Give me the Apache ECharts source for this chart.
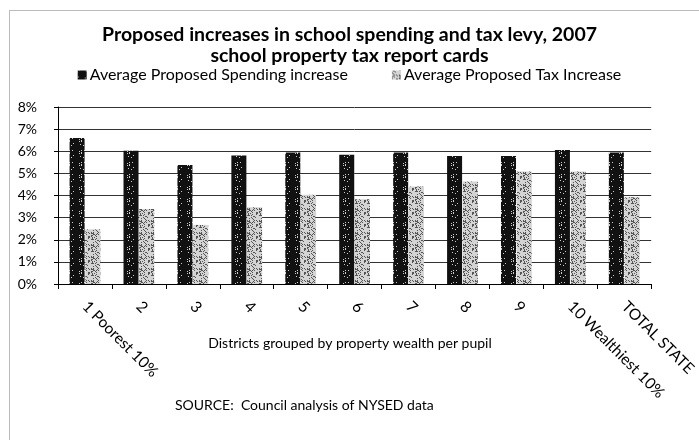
<!DOCTYPE html>
<html><head><meta charset="utf-8">
<script src="https://cdn.jsdelivr.net/npm/echarts@6/dist/echarts.min.js"></script>
<style>html,body{margin:0;padding:0;background:#fff}#c{width:699px;height:440px}</style>
</head><body><div id="c"></div>
<script>
var categories = ['1 Poorest 10%','2','3','4','5','6','7','8','9','10 Wealthiest 10%','TOTAL STATE'];
var spending = [6.6, 6.02, 5.38, 5.81, 5.94, 5.84, 5.94, 5.79, 5.79, 6.06, 5.94];
var tax = [2.47, 3.39, 2.67, 3.47, 4.03, 3.83, 4.41, 4.63, 5.08, 5.08, 3.92];

function makePattern(bg, fg, step, seed) {
  var c = document.createElement('canvas');
  c.width = 12; c.height = 12;
  var ctx = c.getContext('2d');
  ctx.fillStyle = bg; ctx.fillRect(0,0,12,12);
  ctx.fillStyle = fg;
  var s = seed;
  for (var y = 0; y < 12; y++) {
    for (var x = 0; x < 12; x++) {
      s = (s * 1103515245 + 12345) & 0x7fffffff;
      if ((s >> 16) % step === 0) ctx.fillRect(x, y, 1, 1);
    }
  }
  return {image: c, repeat: 'repeat'};
}
var darkPat = makePattern('#111', '#ccc', 8, 3);
var lightPat = makePattern('#d4d4d4', '#555', 4, 11);

var font = 'Lato, "Open Sans", sans-serif';
var chart = echarts.init(document.getElementById('c'), null, {renderer:'canvas'});
chart.setOption({
  animation: false,
  backgroundColor: '#fff',
  textStyle: {fontFamily: font, color: '#000'},
  title: {
    text: 'Proposed increases in school spending and tax levy, 2007\nschool property tax report cards',
    left: 'center', top: 19,
    textStyle: {fontSize: 19.5, fontWeight: 'bold', lineHeight: 21, color: '#000', fontFamily: font}
  },
  graphic: [
    {type: 'rect', shape: {x: 9.5, y: 10.5, width: 700, height: 440}, style: {fill: 'none', stroke: '#777', lineWidth: 1, lineDash: [1, 1]}, silent: true},
    {type: 'text', x: 350, y: 343, style: {text: 'Districts grouped by property wealth per pupil', font: '14px ' + font, fill: '#000', textAlign: 'center', textVerticalAlign: 'middle'}},
    {type: 'text', x: 175, y: 405, style: {text: 'SOURCE:  Council analysis of NYSED data', font: '14px ' + font, fill: '#000', textVerticalAlign: 'middle'}}
  ],
  legend: {
    top: 62, left: 'center', itemGap: 44, itemWidth: 9, itemHeight: 9,
    icon: 'rect',
    textStyle: {fontSize: 16, color: '#000', fontFamily: font, padding: [0,0,0,-2]},
    data: ['Average Proposed Spending increase', 'Average Proposed Tax Increase']
  },
  grid: {left: 58, right: 43, top: 107, bottom: 156},
  xAxis: {
    type: 'category', data: categories,
    axisLine: {lineStyle: {color: '#000', width: 1}},
    axisTick: {show: true, length: 5, lineStyle: {color: '#000'}},
    axisLabel: {rotate: -45, margin: 20, fontSize: 15.5, color: '#000', fontFamily: font, interval: 0}
  },
  yAxis: {
    type: 'value', min: 0, max: 8, interval: 1,
    axisLine: {show: true, lineStyle: {color: '#000'}},
    axisTick: {show: true, length: 4, lineStyle: {color: '#000'}},
    axisLabel: {formatter: function(v){return v + '%';}, margin: 21, fontSize: 14, color: '#000', fontFamily: font},
    splitLine: {lineStyle: {color: '#333', width: 1}}
  },
  series: [
    {name: 'Average Proposed Spending increase', type: 'bar', data: spending, barWidth: 15, barGap: '5%',
     itemStyle: {color: darkPat}},
    {name: 'Average Proposed Tax Increase', type: 'bar', data: tax, barWidth: 15,
     itemStyle: {color: lightPat}}
  ]
});
</script></body></html>
